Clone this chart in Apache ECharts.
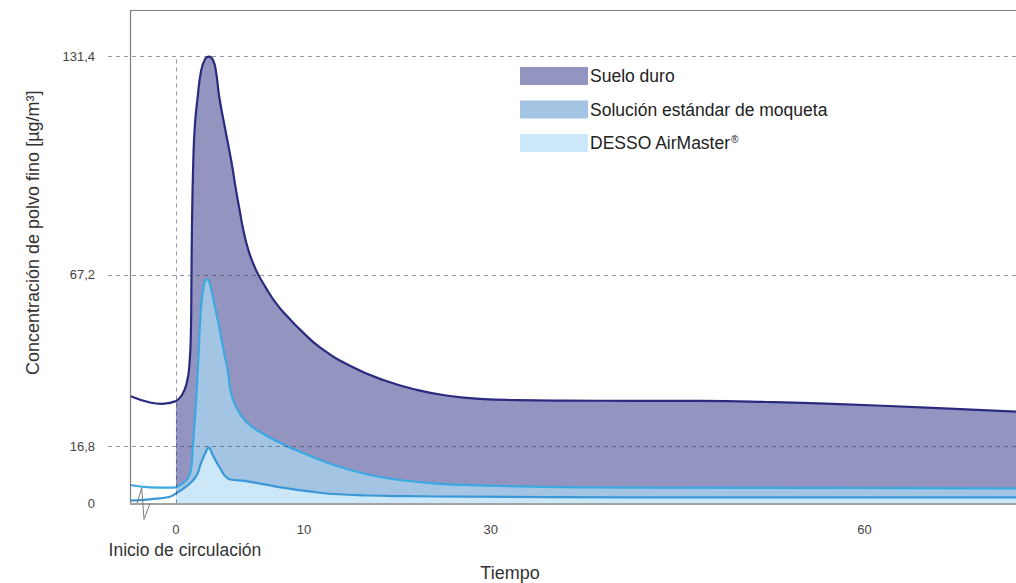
<!DOCTYPE html>
<html><head><meta charset="utf-8">
<script src="https://cdn.jsdelivr.net/npm/echarts@6/dist/echarts.min.js"></script>
<style>html,body{margin:0;padding:0;background:#fff}#c{width:1016px;height:583px}</style>
</head><body><div id="c"></div>
<script>
// ---- data (x in schematic time units of the drawn axis, y in µg/m³) ----
const seriesNames = ['Suelo duro', 'Solución estándar de moqueta', 'DESSO AirMaster®'];

const sueloX = [-3.59,-2.03,-1.09,0,0.47,0.84,1.05,1.17,1.21,1.25,1.35,1.48,1.70,1.95,2.27,2.58,2.89,3.13,3.38,3.83,4.35,4.69,5.0,5.21,5.65,6.25,7.03,7.81,8.75,9.84,11.25,13.59,16.2,18.8,21.4,24.0,26.6,30.5,35.5,40.9,46.1,51.3,59.1,65.63];
const sueloY = [31.6,29.7,29.3,30.1,31.9,35.4,40.7,51.0,65.7,81.3,100.1,111.3,119.6,126.9,130.6,131.4,130.4,126.9,119.6,110.4,100.1,92.2,85.7,81.4,74.6,68.7,63.4,58.9,54.8,50.6,45.9,40.5,36.3,33.4,31.6,30.7,30.4,30.25,30.2,30.15,29.85,29.3,28.1,27.0];

const estandarX = [-3.59,-2.03,-0.47,0,0.52,0.94,1.17,1.30,1.56,1.77,1.95,2.16,2.40,2.58,2.73,3.26,3.77,4.04,4.30,4.69,5.47,6.77,8.59,9.69,10.94,12.27,14.9,17.5,20.1,22.7,27.9,35.5,65.63];
const estandarY = [5.44,4.76,4.65,4.76,5.94,7.5,9.85,15.7,29.5,44.2,56.9,63.8,66.0,65.4,63.3,54.0,44.2,39.3,32.4,28.5,24.1,20.6,17.0,15.2,13.3,11.4,8.6,6.9,5.94,5.44,4.94,4.65,4.47];

const dessoX = [-3.59,-2.03,-0.47,0,0.78,1.56,1.95,2.34,2.55,2.87,3.38,4.04,4.55,5.21,6.77,8.59,10.94,12.27,14.9,18.0,22.7,35.5,65.63];
const dessoY = [0.82,1.24,2.0,3.0,4.94,7.9,11.8,15.2,16.4,14.3,10.8,7.4,6.9,6.7,5.7,4.5,3.3,2.8,2.35,2.15,2.0,1.8,1.8];

const yTicks = [0, 16.8, 67.2, 131.4];
const yTickLabels = ['0', '16,8', '67,2', '131,4'];
const xTickPos = [0, 10, 24.6, 53.8];
const xTickLabels = ['0', '10', '30', '60'];

// ---- layout / style ----
const X_MIN = -5.31, X_MAX = 65.63, Y_MAX = 145.1, FRAME_X = -3.59;
const FONT = '"Liberation Sans", Arial, sans-serif';
const lineCols = ['#2a2a7e', '#3aa9e2', '#3a97d8'];
const fillCols = ['#9494c1', '#a3c4e2', '#cbe7f8'];
const lineW = [2.2, 2.2, 2.2];
const SMOOTH = 0.5;

function pairs(xs, ys, pred) {
  const out = [];
  xs.forEach((x, i) => { if (pred(x)) out.push([x, ys[i]]); });
  return out;
}

const allX = [sueloX, estandarX, dessoX];
const allY = [sueloY, estandarY, dessoY];
const series = [];
for (let k = 0; k < 3; k++) {
  series.push({
    type: 'line', name: seriesNames[k],
    data: pairs(allX[k], allY[k], x => x >= 0),
    smooth: SMOOTH, showSymbol: false, symbol: 'none',
    lineStyle: { color: lineCols[k], width: lineW[k] },
    itemStyle: { color: fillCols[k] },
    areaStyle: { color: fillCols[k], opacity: 1 },
    silent: true, z: 2
  });
  series.push({
    type: 'line', name: seriesNames[k] + ' (antes)',
    data: pairs(allX[k], allY[k], x => x <= 0),
    smooth: SMOOTH, showSymbol: false, symbol: 'none',
    lineStyle: { color: lineCols[k], width: lineW[k] },
    itemStyle: { color: lineCols[k] },
    silent: true, z: 2
  });
}
// dashed guide lines
series.push({
  type: 'line', name: 'guias', data: [], silent: true, z: 5,
  markLine: {
    silent: true, symbol: ['none', 'none'], label: { show: false }, animation: false,
    lineStyle: { type: [4, 4], color: 'rgba(45,45,70,0.5)', width: 1 },
    data: yTicks.filter(v => v > 0).map(v => ({ yAxis: v }))
      .concat([[{ coord: [0, 0] }, { coord: [0, yTicks[yTicks.length - 1]] }]])
  }
});
// frame
series.push({
  type: 'line', name: 'marco', data: [], silent: true, z: 6,
  markLine: {
    silent: true, symbol: ['none', 'none'], label: { show: false }, animation: false,
    lineStyle: { type: 'solid', color: '#7d7d7d', width: 1.2 },
    data: [
      [{ coord: [FRAME_X, 0] }, { coord: [FRAME_X, Y_MAX] }],
      [{ coord: [FRAME_X, Y_MAX] }, { coord: [X_MAX, Y_MAX] }],
      [{ coord: [FRAME_X, 0], lineStyle: { color: '#a3a3a3', width: 2 } }, { coord: [X_MAX, 0] }]
    ]
  }
});

const chart = echarts.init(document.getElementById('c'), null, { renderer: 'svg' });
chart.setOption({
  animation: false,
  textStyle: { fontFamily: FONT },
  grid: { left: 108, right: 0, top: 10, bottom: 79.5, outerBoundsMode: 'none', containLabel: false },
  legend: {
    orient: 'vertical', left: 515, top: 62,
    itemWidth: 68, itemHeight: 18, itemGap: 15.5,
    icon: 'rect', selectedMode: false,
    itemStyle: { borderWidth: 0 },
    lineStyle: { width: 0 },
    textStyle: {
      fontFamily: FONT, fontSize: 17.5, lineHeight: 18, color: '#222', padding: [0, 0, 0, -3],
      rich: { s: { fontFamily: FONT, fontSize: 10, lineHeight: 18, color: '#222', padding: [0, 0, 8, 0] } }
    },
    formatter: n => n.replace('®', '{s|®}'),
    data: seriesNames.map((n, i) => ({ name: n, icon: 'rect', itemStyle: { color: fillCols[i], borderWidth: 0 } }))
  },
  xAxis: {
    type: 'value', min: X_MIN, max: X_MAX,
    name: 'Tiempo', nameLocation: 'middle', nameGap: 60,
    nameTextStyle: { fontFamily: FONT, fontSize: 18, color: '#333', padding: [0, 104, 0, 0] },
    axisLine: { show: false }, axisTick: { show: false }, splitLine: { show: false },
    axisLabel: {
      customValues: xTickPos, margin: 19,
      formatter: v => {
        const i = xTickPos.indexOf(v);
        return i === 0 ? '{a|' + xTickLabels[0] + '}\n{b|Inicio de circulación}' : '{a|' + xTickLabels[i] + '}';
      },
      rich: {
        a: { fontFamily: FONT, fontSize: 13, lineHeight: 14, color: '#444' },
        b: { fontFamily: FONT, fontSize: 17.5, lineHeight: 26, color: '#333', padding: [0, 0, 0, 18] }
      }
    }
  },
  yAxis: {
    type: 'value', min: 0, max: Y_MAX,
    name: 'Concentración de polvo fino [µg/m³]', nameLocation: 'middle', nameGap: 66, nameRotate: 90,
    nameTextStyle: { fontFamily: FONT, fontSize: 18, color: '#333', padding: [0, 0, 0, 48] },
    axisLine: { show: false }, axisTick: { show: false }, splitLine: { show: false },
    axisLabel: {
      customValues: yTicks, margin: 13, fontFamily: FONT, fontSize: 13, color: '#444',
      formatter: v => yTickLabels[yTicks.indexOf(v)]
    }
  },
  series: series
});

// axis-break zigzag at the bottom-left of the frame
const p = chart.convertToPixel({ gridIndex: 0 }, [FRAME_X, 0]);
chart.setOption({
  graphic: [{
    type: 'polyline', silent: true, z: 10,
    shape: { points: [[p[0] + 7, p[1]], [p[0] + 11.7, p[1] - 15.8], [p[0] + 14, p[1] + 15.8], [p[0] + 20, p[1]]] },
    style: { stroke: '#7a7a7a', lineWidth: 1, fill: null }
  }]
});
</script>
</body></html>
